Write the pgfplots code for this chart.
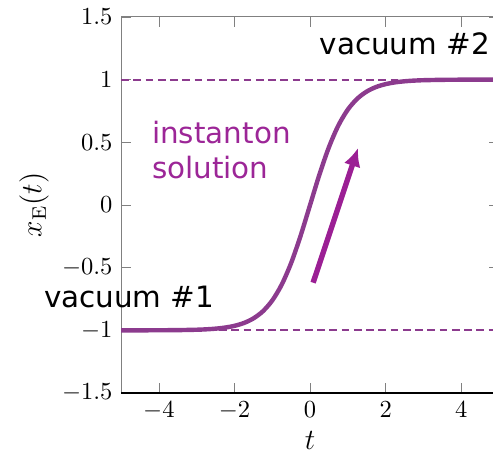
\documentclass[border=0pt]{standalone}
\usepackage{pgfplots}
\pgfplotsset{compat=1.18}
\usepackage{fontspec}
\usetikzlibrary{arrows.meta}
\newfontfamily\dejavu{DejaVu Sans}
\definecolor{curvepurple}{HTML}{8C3B8E}
\definecolor{arrowpurple}{HTML}{9B1F94}
\definecolor{textpurple}{HTML}{9C2697}
\newcommand{\lbl}{\dejavu\fontsize{12}{14}\selectfont}
\begin{document}
\begin{tikzpicture}
\begin{axis}[
  name=ax,
  scale only axis,
  width=154.3pt, height=153.5pt,
  xmin=-5, xmax=5, ymin=-1.5, ymax=1.5,
  xtick={-4,-2,0,2,4},
  ytick={-1.5,-1,-0.5,0,0.5,1,1.5},
  axis line style={black!50},
  tick style={black!50},
  xlabel={$t$},
  ylabel={$x_{\mathrm{E}}(t)$},
  xlabel style={at={(axis description cs:0.5,-0.125)}, anchor=center, font=\large},
  ylabel style={at={(axis description cs:-0.23,0.5)}, anchor=center, font=\large},
  clip=false,
]
% bottom axis line drawn darker
\draw[black, line width=0.5pt] (rel axis cs:0,0) -- (rel axis cs:1,0);
% the two vacua
\addplot[curvepurple, line width=0.8pt, dash pattern=on 3.2pt off 1.8pt]
  coordinates {(-5,1) (5,1)};
\addplot[curvepurple, line width=0.8pt, dash pattern=on 3.2pt off 1.8pt]
  coordinates {(-5,-1) (5,-1)};
% instanton profile x_E(t)
\addplot[curvepurple, line width=1.8pt, smooth] coordinates {
  (-5,-0.9999) (-4.5,-0.9998) (-4,-0.9993) (-3.5,-0.9982) (-3,-0.9951)
  (-2.75,-0.9919) (-2.5,-0.9866) (-2.25,-0.9780) (-2,-0.9640)
  (-1.75,-0.9414) (-1.5,-0.9051) (-1.25,-0.8483) (-1,-0.7616)
  (-0.75,-0.6351) (-0.5,-0.4621) (-0.25,-0.2449) (0,0)
  (0.25,0.2449) (0.5,0.4621) (0.75,0.6351) (1,0.7616)
  (1.25,0.8483) (1.5,0.9051) (1.75,0.9414) (2,0.9640)
  (2.25,0.9780) (2.5,0.9866) (2.75,0.9919) (3,0.9951)
  (3.5,0.9982) (4,0.9993) (4.5,0.9998) (5,0.9999)};
% direction of the tunnelling
\addplot[arrowpurple, line width=2.2pt, -{Latex[length=7.5pt,width=7pt]}]
  coordinates {(0.08,-0.62) (1.27,0.455)};
\node[anchor=base west, inner sep=0pt] at (axis cs:0.24,1.197) {\lbl vacuum \#2};
\node[anchor=base west, inner sep=0pt, text=textpurple] at (axis cs:-4.19,0.487) {\lbl instanton};
\node[anchor=base west, inner sep=0pt, text=textpurple] at (axis cs:-4.19,0.215) {\lbl solution};
\node[anchor=base west, inner sep=0pt] at (axis cs:-7.05,-0.814) {\lbl vacuum \#1};
\end{axis}
\pgfresetboundingbox
\path ([shift={(-49.4pt,-24.5pt)}]ax.south west) rectangle ([shift={(151.8pt,160.4pt)}]ax.south west);
\end{tikzpicture}
\end{document}
